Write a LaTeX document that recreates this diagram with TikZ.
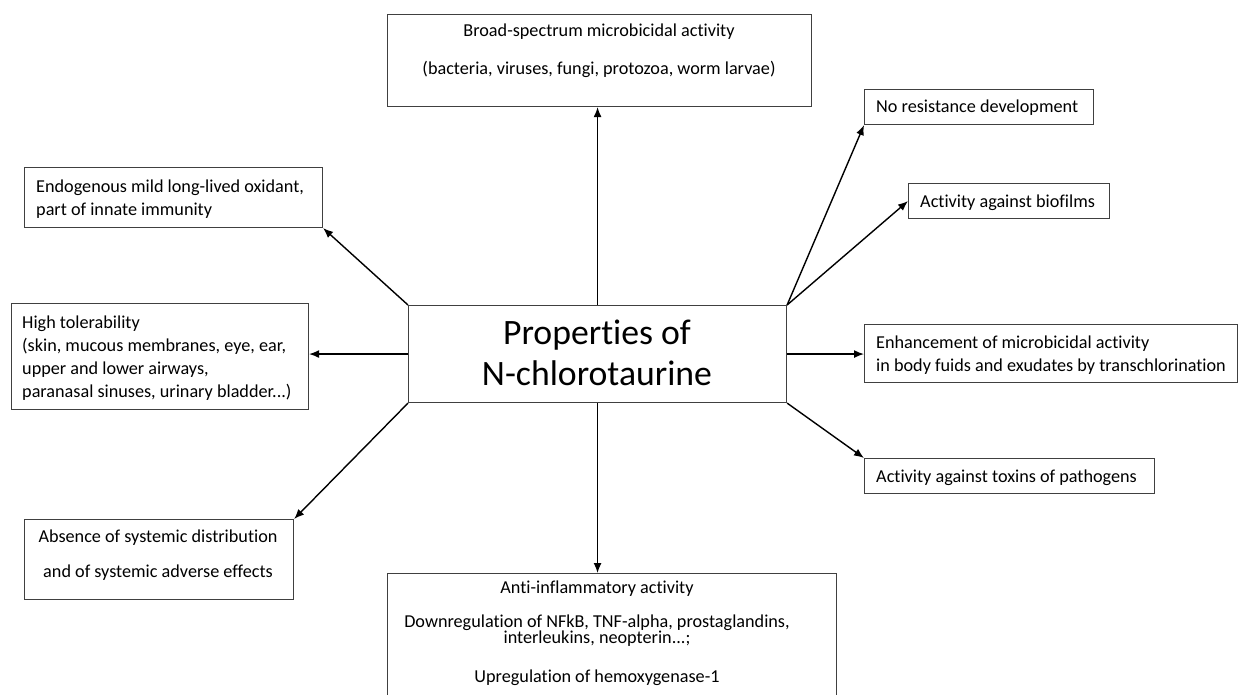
\documentclass[tikz,border=0pt]{standalone}
\usepackage{fontspec}
\setmainfont{Carlito}[Ligatures={NoCommon,NoRequired,NoContextual},Contextuals=NoAlternate]
\usetikzlibrary{arrows.meta}
\begin{document}
\begin{tikzpicture}[x=1pt,y=-1pt,
  box/.style={draw=black!75, line width=1.1pt, inner sep=0pt, anchor=north west, fill=none},
  txt/.style={inner sep=0pt, font=\fontsize{18.2}{23}\selectfont},
  ltxt/.style={txt, anchor=base west, align=left},
  ctxt/.style={txt, anchor=base, align=center},
  conn/.style={line width=1.4pt, -{Latex[length=10pt,width=8pt]}}]
\useasboundingbox (0,0) rectangle (1238,695);
% boxes
\node[box, minimum width=424pt, minimum height=92pt] (top) at (387,14) {};
\node[box, minimum width=378pt, minimum height=97pt] (c) at (408,305) {};
\node[box, minimum width=298pt, minimum height=60pt] (endo) at (24,167) {};
\node[box, minimum width=297pt, minimum height=106pt] (hitol) at (11,303) {};
\node[box, minimum width=269pt, minimum height=80pt] (abs) at (24,519) {};
\node[box, minimum width=449pt, minimum height=140pt] (anti) at (387,573) {};
\node[box, minimum width=229pt, minimum height=35pt] (nores) at (864,89) {};
\node[box, minimum width=201pt, minimum height=35pt] (bio) at (908,183) {};
\node[box, minimum width=373pt, minimum height=58pt] (enh) at (864,324) {};
\node[box, minimum width=290pt, minimum height=35pt] (tox) at (864,458) {};
% texts (base anchor = last line's baseline)
\node[ctxt] (ttop) at (599,75) {Broad-spectrum microbicidal activity\\[15pt](bacteria, viruses, fungi, protozoa, worm larvae)};
\node[txt, anchor=base, align=center, font=\fontsize{35.7}{41}\selectfont] (tc) at (597,385) {Proper\kern0pt ties of\\N-chlorotaurine};
\node[ltxt] (tendo) at (36,215) {Endogenous mild long-lived oxidant,\\part of innate immunity};
\node[ltxt] (thitol) at (22,397) {High tolerability\\(skin, mucous membranes, eye, ear,\\upper and lower airways,\\paranasal sinuses, urinary bladder...)};
\node[ctxt] (tabs) at (158,577) {Absence of systemic distribution\\[12pt]and of systemic adverse effects};
\node[ctxt] (tanti) at (597,682) {Ant\kern0pt i-inflammatory activ\kern0pt ity\\[11pt]Downregulation of NFkB, TNF-alpha, prostaglandins,\\[-7pt]interleukins, neopterin...;\\[16pt]Upregulation of hemoxygenase-1};
\node[ltxt] (tnores) at (876,113) {No resistance development};
\node[ltxt] (tbio) at (920,207) {Activity against biofilms};
\node[ltxt] (tenh) at (876,371) {Enhancement of microbicidal activity\\in body fuids and exudates by transchlorination};
\node[ltxt] (ttox) at (876,482) {Activity against toxins of pathogens};
% connectors
\draw[conn] (c.north) -- (c.north |- top.south);
\draw[conn] (c.north west) -- (endo.south east);
\draw[conn] (c.west) -- (c.west -| hitol.east);
\draw[conn] (c.south west) -- (abs.north east);
\draw[conn] (c.south) -- (c.south |- anti.north);
\draw[conn] (c.north east) -- (nores.south west);
\draw[conn] (c.north east) -- (bio.west);
\draw[conn] (c.east) -- (c.east -| enh.west);
\draw[conn] (c.south east) -- (tox.north west);
\end{tikzpicture}
\end{document}
